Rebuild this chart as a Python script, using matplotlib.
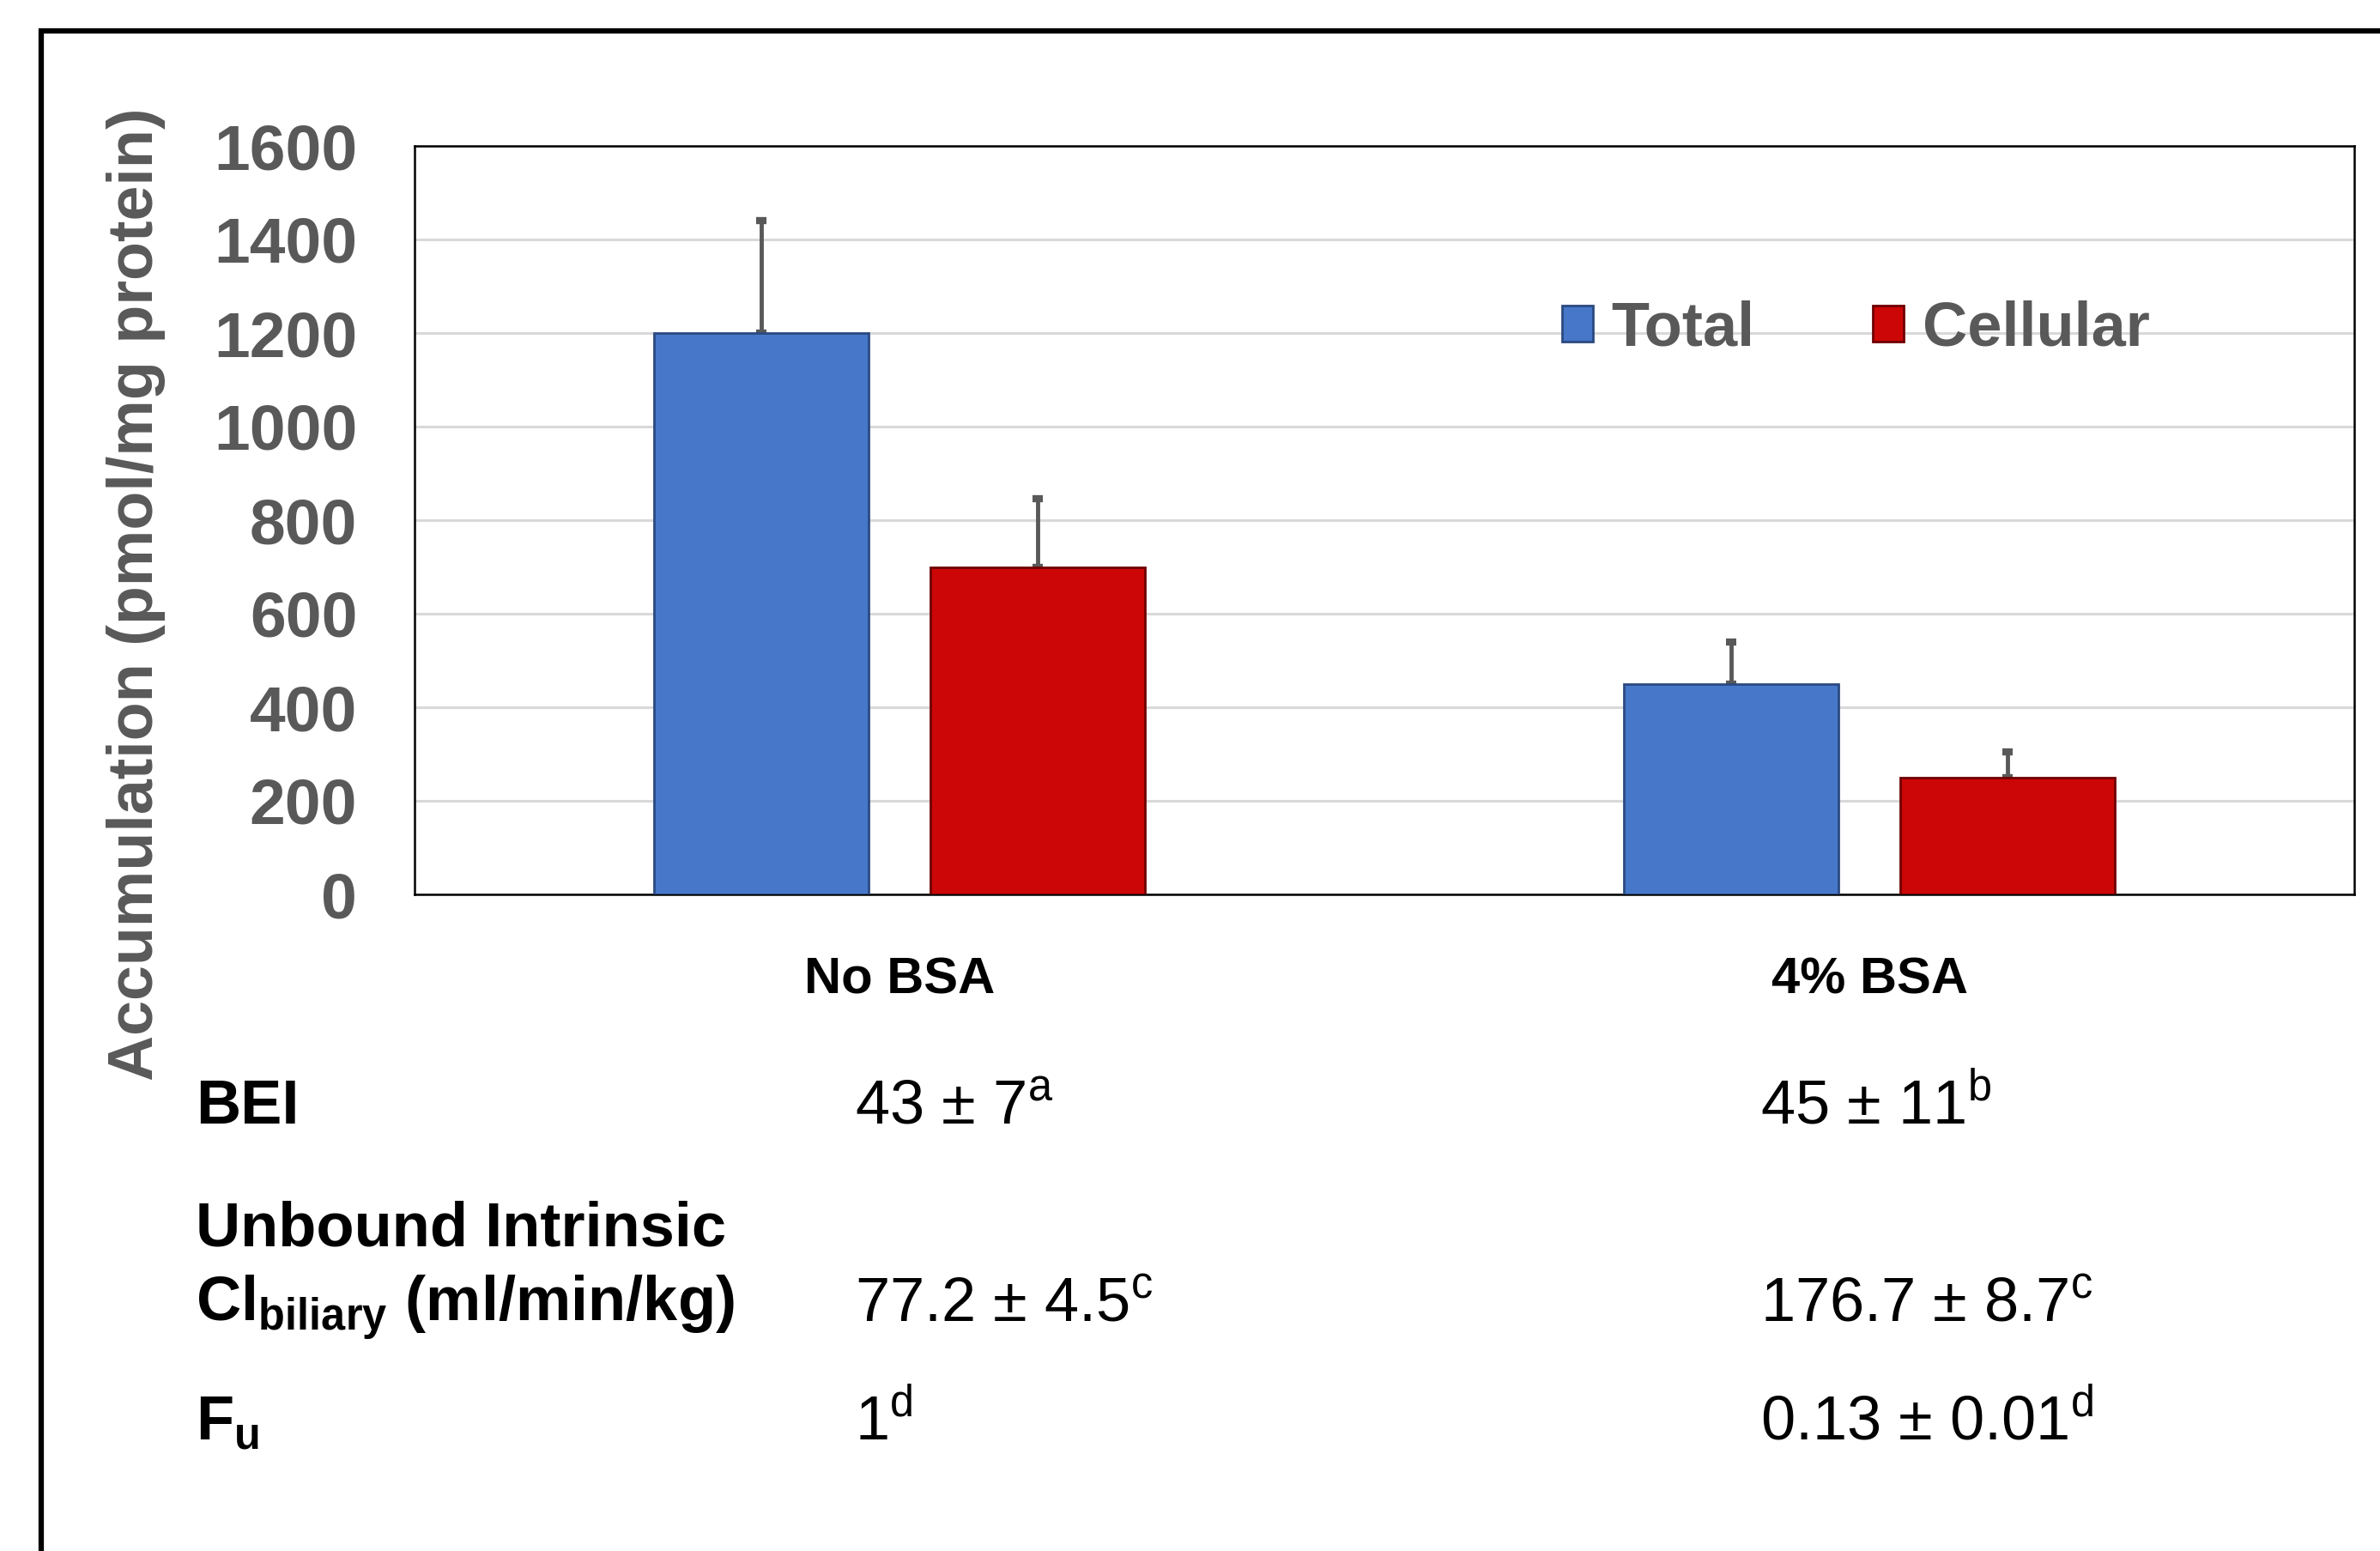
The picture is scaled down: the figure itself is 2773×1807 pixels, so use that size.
import numpy as np
import matplotlib.pyplot as plt
from matplotlib.patches import Rectangle, Patch
from matplotlib.lines import Line2D

plt.rcParams['font.family'] = ['Liberation Sans', 'DejaVu Sans']
plt.rcParams['mathtext.fontset'] = 'custom'
plt.rcParams['mathtext.rm'] = 'Liberation Sans'

groups = ['No BSA', '4% BSA']
series = ['Total', 'Cellular']
total = [1200, 450]
total_err = [240, 90]
cellular = [700, 250]
cellular_err = [145, 55]

row_labels = ['BEI', 'Unbound Intrinsic\nCl$_{\\mathregular{biliary}}$ (ml/min/kg)', 'F$_{\\mathregular{u}}$']
no_bsa_vals = ['43 ± 7$^{\\mathregular{a}}$', '77.2 ± 4.5$^{\\mathregular{c}}$', '1$^{\\mathregular{d}}$']
bsa_vals = ['45 ± 11$^{\\mathregular{b}}$', '176.7 ± 8.7$^{\\mathregular{c}}$', '0.13 ± 0.01$^{\\mathregular{d}}$']

blue = '#4677C9'
red = '#CC0606'
grey = '#595959'

W, H = 2773, 1807
fig = plt.figure(figsize=(W / 100, H / 100), dpi=100)
ax = fig.add_axes([483 / W, 1 - 1042 / H, (2743 - 483) / W, (1042 - 170) / H])

x = np.arange(len(groups))
off = 0.1425
bw = 0.222
ax.bar(x - off, total, bw, color=blue, edgecolor='#2B4A80', linewidth=2, zorder=3)
ax.bar(x + off, cellular, bw, color=red, edgecolor='#6E0000', linewidth=2, zorder=3)
ax.errorbar(x - off, total, yerr=[np.zeros(2), total_err], fmt='none', ecolor=grey,
            elinewidth=3.5, capsize=4, capthick=6, zorder=2)
ax.errorbar(x + off, cellular, yerr=[np.zeros(2), cellular_err], fmt='none', ecolor=grey,
            elinewidth=3.5, capsize=4, capthick=6, zorder=2)

ax.set_xlim(-0.5, 1.5)
ax.set_ylim(0, 1600)
ax.set_yticks(range(0, 1601, 200))
ax.yaxis.grid(True, color='#D9D9D9', linewidth=2.2, zorder=0)
ax.set_axisbelow(True)
ax.tick_params(axis='both', length=0)
ax.tick_params(axis='y', pad=48, labelsize=54, labelcolor=grey)
ax.tick_params(axis='x', pad=52, labelsize=43)
for lbl in ax.get_yticklabels():
    lbl.set_fontweight('bold')
ax.set_xticks(x)
ax.set_xticklabels(groups, fontweight='bold')
for s in ax.spines.values():
    s.set_linewidth(1.8)
    s.set_color('black')

handles = [Patch(facecolor=blue, edgecolor='#2B4A80', linewidth=2),
           Patch(facecolor=red, edgecolor='#6E0000', linewidth=2)]
leg = ax.legend(handles, series, loc='center', bbox_to_anchor=(0.743, 0.755), ncol=2,
                frameon=False, handlelength=0.5, handleheight=0.5, handletextpad=0.3,
                columnspacing=1.9, prop={'size': 52, 'weight': 'bold'})
for t in leg.get_texts():
    t.set_color(grey)

fig.text(159 / W, 1 - 692 / H, 'Accumulation (pmol/mg protein)', rotation=90,
         ha='center', va='center', fontsize=53, fontweight='bold', color=grey)

# parameter table under the chart
baselines = [1309, 1539, 1677]
for lab, v1, v2, yb in zip(row_labels, no_bsa_vals, bsa_vals, baselines):
    yf = 1 - yb / H
    fig.text(228 / W, yf, lab, ha='left', va='baseline', fontsize=52,
             fontweight='bold', linespacing=1.3)
    fig.text(996 / W, yf, v1, ha='left', va='baseline', fontsize=52)
    fig.text(2051 / W, yf, v2, ha='left', va='baseline', fontsize=52)

# outer frame running off the right and bottom edges
fig.add_artist(Rectangle((48 / W, -0.1), 1.2, 1.1 - 36 / H, transform=fig.transFigure,
                         fill=False, edgecolor='black', linewidth=4.5))

fig.savefig('out.png', dpi=100)
